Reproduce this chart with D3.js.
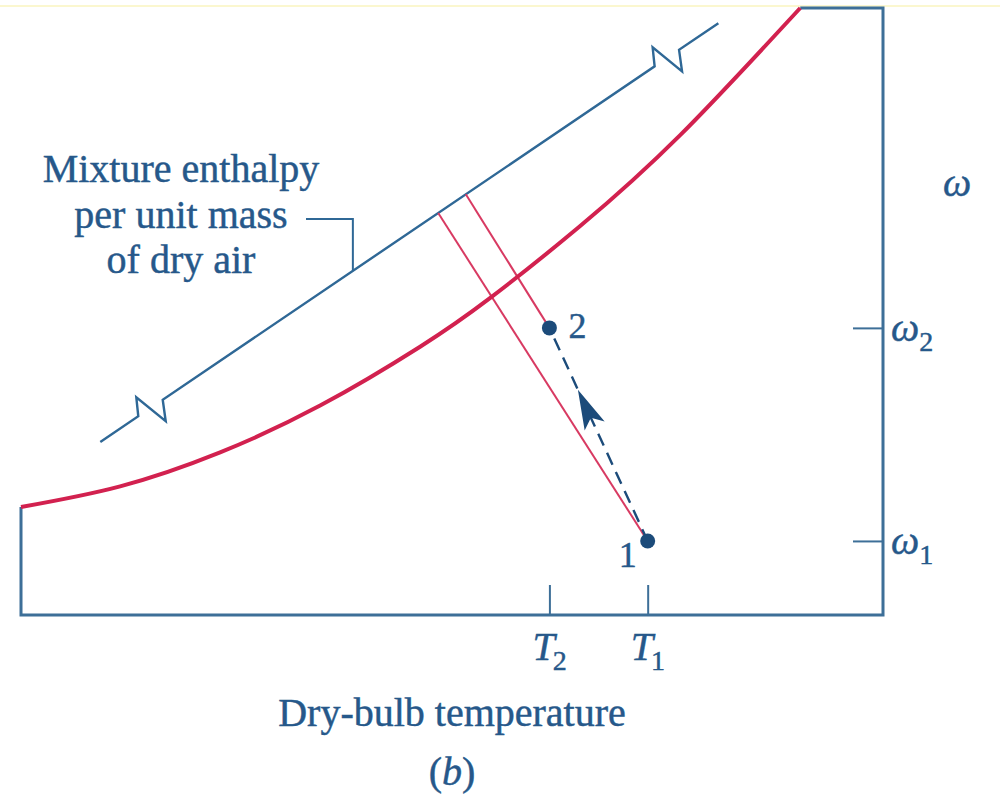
<!DOCTYPE html>
<html>
<head>
<meta charset="utf-8">
<script src="https://cdn.jsdelivr.net/npm/d3@7"></script>
<style>
  html, body { margin: 0; padding: 0; background: #ffffff; }
  svg { display: block; }
  text { font-family: "Liberation Serif", "DejaVu Serif", serif; fill: #26588a; stroke: #26588a; stroke-width: 0.45px; }
</style>
</head>
<body>
<svg id="chart" width="1000" height="803"></svg>
<script>
// ---- data (chart units: temperature 0..100, humidity ratio 0..100) ----
const satT = [0, 11.5, 23.1, 34.7, 46.3, 54.4, 64.8, 76.5, 90.4];
const satW = [17.8, 21.2, 26.8, 34.5, 44.2, 52.2, 64.0, 79.1, 100];

const enthT = [9.2, 80.9];
const enthW = [28.5, 97.5];
const enthBreakT = [15.0, 74.9];

const stateNames = ["1", "2"];
const stateT = [72.7, 61.3];
const stateW = [12.2, 47.3];

// where the constant-enthalpy lines through each state meet the enthalpy scale line
const enthTopT = [48.4, 51.6];

const tickTLabels = ["T", "T"];
const tickTSubs = ["1", "2"];
const tickWLabels = ["ω", "ω"];
const tickWSubs = ["1", "2"];

const labelLines = ["Mixture enthalpy", "per unit mass", "of dry air"];
const leaderT = 38.5;
const xTitle = "Dry-bulb temperature";
const yTitle = "ω";
const caption = "b";

// ---- layout ----
const svg = d3.select("#chart");
const W = 1000, H = 803;
const mLeft = 21, mRight = 883, mTop = 8, mBottom = 615;

const x = d3.scaleLinear().domain([0, 100]).range([mLeft, mRight]);
const y = d3.scaleLinear().domain([0, 100]).range([mBottom, mTop]);

const cFrame = "#3d6f98";
const cBlue = "#2f6896";
const cRed = "#d2214f";
const cPink = "#d83a62";
const cDark = "#1c4b7a";

// faint yellow band at top
svg.append("rect").attr("x", 0).attr("y", 5).attr("width", W).attr("height", 2)
  .attr("fill", "#fbf7cf");

// frame
const frame = d3.path();
frame.moveTo(x(0), y(satW[0]));
frame.lineTo(x(0), y(0));
frame.lineTo(x(100), y(0));
frame.lineTo(x(100), y(100));
frame.lineTo(x(satT[satT.length - 1]), y(100));
svg.append("path").attr("d", frame.toString())
  .attr("fill", "none").attr("stroke", cFrame).attr("stroke-width", 3)
  .attr("stroke-linejoin", "miter");

// ticks (inside the frame)
const axB = d3.axisTop(x).tickValues(stateT).tickSize(30).tickFormat("");
svg.append("g").attr("transform", `translate(0,${mBottom})`).call(axB)
  .call(g => g.select(".domain").remove())
  .call(g => g.selectAll(".tick line").attr("stroke", cFrame).attr("stroke-width", 2));

const axR = d3.axisLeft(y).tickValues(stateW).tickSize(30).tickFormat("");
svg.append("g").attr("transform", `translate(${mRight},0)`).call(axR)
  .call(g => g.select(".domain").remove())
  .call(g => g.selectAll(".tick line").attr("stroke", cFrame).attr("stroke-width", 2));

// enthalpy scale line with break symbols
const lineY = t => enthW[0] + (enthW[1] - enthW[0]) * (t - enthT[0]) / (enthT[1] - enthT[0]);
const p0 = [x(enthT[0]), y(enthW[0])], p1 = [x(enthT[1]), y(enthW[1])];
const len = Math.hypot(p1[0] - p0[0], p1[1] - p0[1]);
const u = [(p1[0] - p0[0]) / len, (p1[1] - p0[1]) / len];
const ep = d3.path();
ep.moveTo(p0[0], p0[1]);
enthBreakT.forEach(bt => {
  const P = [x(bt), y(lineY(bt))];
  const A = [P[0] - 14.5 * u[0], P[1] - 14.5 * u[1]];
  const D = [P[0] + 15 * u[0], P[1] + 15 * u[1]];
  ep.lineTo(A[0], A[1]);
  ep.lineTo(A[0] - 2, A[1] - 19);
  ep.lineTo(D[0] + 3, D[1] + 21.5);
  ep.lineTo(D[0], D[1]);
});
ep.lineTo(p1[0], p1[1]);
svg.append("path").attr("d", ep.toString())
  .attr("fill", "none").attr("stroke", cBlue).attr("stroke-width", 2.4)
  .attr("stroke-linejoin", "miter");

// constant enthalpy lines
stateT.forEach((t, i) => {
  svg.append("line")
    .attr("x1", x(enthTopT[i])).attr("y1", y(lineY(enthTopT[i])))
    .attr("x2", x(t)).attr("y2", y(stateW[i]))
    .attr("stroke", cPink).attr("stroke-width", 2);
});

// saturation curve
const satData = satT.map((t, i) => [t, satW[i]]);
svg.append("path").datum(satData)
  .attr("d", d3.line().x(d => x(d[0])).y(d => y(d[1])).curve(d3.curveNatural))
  .attr("fill", "none").attr("stroke", cRed).attr("stroke-width", 4)
  .attr("stroke-linecap", "butt");

// process 1 -> 2 dashed with arrowhead
const s1 = [x(stateT[0]), y(stateW[0])], s2 = [x(stateT[1]), y(stateW[1])];
svg.append("line")
  .attr("x1", s1[0]).attr("y1", s1[1]).attr("x2", s2[0]).attr("y2", s2[1])
  .attr("stroke", cDark).attr("stroke-width", 2.4)
  .attr("stroke-dasharray", "13,8");
{
  const dl = Math.hypot(s2[0] - s1[0], s2[1] - s1[1]);
  const v = [(s2[0] - s1[0]) / dl, (s2[1] - s1[1]) / dl];
  const nrm = [-v[1], v[0]];
  const tip = [s1[0] + v[0] * dl * 0.71, s1[1] + v[1] * dl * 0.71];
  const back = 40, notch = 31, hw = 11;
  const bl = [tip[0] - v[0] * back + nrm[0] * hw, tip[1] - v[1] * back + nrm[1] * hw];
  const br = [tip[0] - v[0] * back - nrm[0] * hw, tip[1] - v[1] * back - nrm[1] * hw];
  const nc = [tip[0] - v[0] * notch, tip[1] - v[1] * notch];
  svg.append("path").attr("d", `M${tip}L${bl}L${nc}L${br}Z`).attr("fill", cDark);
}

// state points
svg.selectAll("circle.state").data(stateT).join("circle")
  .attr("class", "state")
  .attr("cx", (d) => x(d)).attr("cy", (d, i) => y(stateW[i])).attr("r", 7.5)
  .attr("fill", cDark);

// state labels
svg.append("text").attr("x", x(stateT[0]) - 20).attr("y", y(stateW[0]) + 26)
  .attr("font-size", 36).attr("text-anchor", "middle").text(stateNames[0]);
svg.append("text").attr("x", x(stateT[1]) + 28).attr("y", y(stateW[1]) + 10)
  .attr("font-size", 36).attr("text-anchor", "middle").text(stateNames[1]);

// temperature tick labels
stateT.forEach((t, i) => {
  const tx = svg.append("text").attr("x", x(t) - 17).attr("y", 660).attr("font-size", 40);
  tx.append("tspan").attr("font-style", "italic").text(tickTLabels[i]);
  tx.append("tspan").attr("font-size", 28).attr("dy", 10).attr("dx", -2).text(tickTSubs[i]);
});

// humidity tick labels
stateW.forEach((w, i) => {
  const tx = svg.append("text").attr("x", 891).attr("y", y(w) + 13).attr("font-size", 40);
  tx.append("tspan").attr("font-style", "italic").text(tickWLabels[i]);
  tx.append("tspan").attr("font-size", 28).attr("dy", 10).text(tickWSubs[i]);
});

// axis titles
svg.append("text").attr("x", 957).attr("y", 196).attr("font-size", 40)
  .attr("font-style", "italic").attr("text-anchor", "middle").text(yTitle);
svg.append("text").attr("x", 452).attr("y", 726).attr("font-size", 40)
  .attr("text-anchor", "middle").text(xTitle);
{
  const c = svg.append("text").attr("x", 452).attr("y", 785).attr("font-size", 40)
    .attr("text-anchor", "middle");
  c.append("tspan").text("(");
  c.append("tspan").attr("font-style", "italic").text(caption);
  c.append("tspan").text(")");
}

// enthalpy label + leader
labelLines.forEach((s, i) => {
  svg.append("text").attr("x", 181).attr("y", 182 + i * 45.5).attr("font-size", 40)
    .attr("text-anchor", "middle").text(s);
});
svg.append("path")
  .attr("d", `M306,219H${x(leaderT)}V${y(lineY(leaderT))}`)
  .attr("fill", "none").attr("stroke", cBlue).attr("stroke-width", 2);
</script>
</body>
</html>
